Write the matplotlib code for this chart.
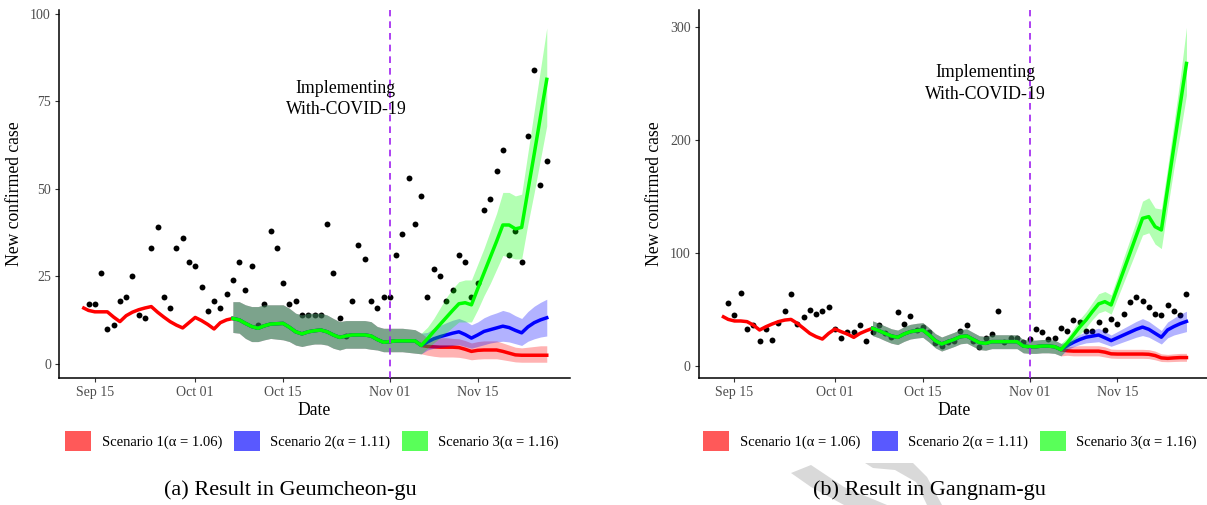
import pandas as pd
import matplotlib
matplotlib.use("Agg")
import matplotlib.pyplot as plt
import matplotlib.dates as mdates
from matplotlib.patches import Patch, Polygon

plt.rcParams['font.family'] = ['Liberation Serif', 'DejaVu Serif']

# observed daily new cases, Sep 14 - Nov 26 2021
obs_dates = pd.date_range('2021-09-14', '2021-11-26')
geum_obs = [17, 17, 26, 10, 11, 18, 19, 25, 14, 13, 33, 39, 19, 16, 33, 36, 29, 28,
            22, 15, 18, 16, 20, 24, 29, 21, 28, 11, 17, 38, 33, 23, 17, 18, 14, 14,
            14, 14, 40, 26, 13, 8, 18, 34, 30, 18, 16, 19, 19, 31, 37, 53, 40, 48,
            19, 27, 25, 18, 21, 31, 29, 19, 23, 44, 47, 55, 61, 31, 38, 29, 65, 84,
            51, 58]
gang_obs = [56, 45, 65, 33, 36, 22, 33, 23, 38, 49, 64, 37, 43, 50, 46, 49, 52, 33,
            25, 30, 30, 36, 22, 30, 36, 29, 26, 48, 37, 44, 32, 35, 30, 20, 18, 21,
            22, 31, 36, 22, 17, 25, 28, 49, 21, 25, 25, 21, 24, 33, 30, 24, 25, 34,
            31, 41, 39, 31, 31, 39, 32, 42, 37, 46, 57, 61, 58, 52, 46, 45, 54, 49,
            45, 64]

# scenario 1 fitted curve before the common fitting window, Sep 13 - Oct 07
pre_dates = pd.date_range('2021-09-13', '2021-10-07')
geum_pre = [16.2, 15.3, 14.9, 14.9, 14.9, 13.4, 12.1, 13.8, 14.8, 15.5, 16.0, 16.4, 14.8,
            13.4, 12.1, 11.1, 10.3, 11.8, 13.3, 12.4, 11.3, 10.0, 11.8, 12.6, 13.0]
gang_pre = [44.3, 41.3, 39.9, 39.9, 39.3, 36.3, 31.9, 34.8, 37.2, 39.3, 40.7, 41.3, 37.8,
            33.4, 28.9, 26.0, 23.9, 28.9, 32.8, 30.4, 28.3, 25.4, 28.9, 31.3, 33.4]

# common fit, Oct 07 - Nov 06 (the three scenarios coincide here)
fit_dates = pd.date_range('2021-10-07', '2021-11-06')
geum_fit = [13.0, 12.6, 11.6, 10.7, 10.2, 10.9, 11.4, 11.5, 11.6, 10.5, 9.2, 8.6, 9.2, 9.5,
            9.7, 9.2, 8.3, 7.6, 8.0, 8.3, 8.3, 8.3, 8.0, 7.0, 6.2, 6.4, 6.6, 6.6, 6.6, 6.6, 5.3]
geum_fit_lo = [9.0, 8.8, 7.3, 6.4, 6.4, 6.9, 7.3, 7.1, 6.9, 6.4, 5.4, 5.0, 5.4, 5.7, 5.7,
               5.4, 4.5, 4.0, 4.5, 4.5, 4.5, 4.5, 4.2, 4.0, 3.5, 3.5, 3.5, 3.5, 3.3, 3.1, 2.9]
geum_fit_hi = [17.8, 17.8, 16.9, 16.4, 16.4, 16.9, 16.9, 16.9, 16.9, 15.9, 14.5, 14.0, 14.5,
               14.5, 14.5, 14.0, 13.0, 12.1, 12.4, 12.4, 12.4, 12.4, 12.1, 10.7, 10.2, 10.2,
               10.2, 10.2, 10.0, 9.8, 8.8]
gang_fit = [33.4, 31.3, 28.9, 26.6, 25.4, 28.3, 30.4, 31.3, 31.9, 27.5, 22.4, 19.5, 21.6,
            23.6, 26.0, 26.6, 23.6, 20.7, 20.1, 21.6, 21.6, 21.6, 21.6, 21.6, 17.7, 17.1,
            17.1, 17.7, 17.7, 17.1, 14.5]
gang_fit_lo = [27.0, 25.0, 22.5, 20.2, 19.0, 21.8, 23.9, 24.8, 25.4, 21.1, 16.1, 13.3, 15.3,
               17.3, 19.7, 20.3, 17.4, 14.6, 14.0, 15.4, 15.4, 15.4, 15.4, 15.4, 11.7, 11.2,
               11.2, 11.7, 11.7, 11.2, 9.0]
gang_fit_hi = [40.0, 37.8, 35.4, 33.0, 31.8, 34.8, 36.9, 37.8, 38.4, 33.9, 28.7, 25.7, 27.8,
               29.9, 32.3, 32.9, 29.8, 26.8, 26.2, 27.7, 27.7, 27.7, 27.7, 27.6, 23.5, 22.9,
               22.9, 23.5, 23.5, 22.9, 20.0]

# projections, Nov 06 - Nov 26
proj_dates = pd.date_range('2021-11-06', '2021-11-26')
geum_s1 = [5.3, 5.0, 4.9, 4.8, 4.8, 4.8, 4.7, 4.2, 3.6, 3.9, 4.0, 4.0, 4.0, 3.6, 3.1, 2.6,
           2.5, 2.5, 2.5, 2.5, 2.5]
geum_s1_lo = [2.8, 2.5, 2.2, 2.0, 2.0, 2.0, 1.9, 1.6, 1.2, 1.4, 1.5, 1.5, 1.5, 1.2, 0.9, 0.6,
              0.5, 0.5, 0.5, 0.5, 0.5]
geum_s1_hi = [7.5, 7.5, 7.5, 7.5, 7.5, 7.3, 7.2, 6.7, 6.0, 6.4, 6.6, 6.6, 6.6, 6.0, 5.4, 4.8,
              4.6, 4.8, 5.0, 5.2, 5.2]
geum_s2 = [5.3, 6.3, 7.2, 7.8, 8.3, 8.8, 9.2, 8.4, 7.4, 8.3, 9.3, 9.8, 10.3, 10.8, 10.4, 9.6,
           8.9, 10.6, 11.8, 12.6, 13.2]
geum_s2_lo = [3.5, 4.0, 4.5, 4.8, 5.0, 5.3, 5.5, 5.0, 4.5, 5.0, 5.5, 6.0, 6.3, 6.5, 6.3, 5.8,
              5.3, 6.5, 7.2, 7.7, 8.0]
geum_s2_hi = [7.5, 9.0, 10.2, 11.0, 11.8, 12.5, 13.0, 12.3, 11.2, 12.0, 13.2, 14.0, 14.6, 15.3,
              14.8, 13.8, 13.0, 15.0, 16.5, 17.6, 18.5]
geum_s3 = [5.3, 7.2, 9.3, 11.3, 13.3, 15.3, 17.2, 17.5, 16.9, 21.5, 26.0, 30.5, 35.0, 39.7,
           39.7, 38.6, 39.0, 49.6, 60.0, 70.7, 81.3]
geum_s3_lo = [3.0, 4.5, 6.0, 7.5, 9.0, 10.5, 12.0, 12.0, 12.0, 15.5, 19.5, 23.0, 27.0, 31.0,
              30.5, 30.0, 30.0, 40.0, 49.0, 58.5, 68.0]
geum_s3_hi = [8.5, 10.5, 13.0, 16.0, 19.0, 21.5, 23.5, 24.0, 24.0, 28.5, 33.0, 38.0, 43.0,
              49.0, 49.0, 48.0, 48.5, 60.4, 72.3, 84.2, 96.0]

gang_s1 = [14.5, 13.5, 13.2, 13.2, 13.2, 13.2, 13.2, 12.3, 10.8, 10.6, 10.6, 10.6, 10.6, 10.6,
           10.4, 9.3, 7.2, 6.8, 7.2, 7.5, 7.5]
gang_s1_lo = [11.0, 9.5, 9.0, 9.0, 9.0, 9.0, 9.0, 8.0, 7.0, 6.8, 6.8, 6.8, 6.8, 6.8, 6.6, 5.5,
              4.0, 3.8, 4.0, 4.2, 4.2]
gang_s1_hi = [17.0, 17.0, 17.5, 18.0, 18.0, 18.0, 18.0, 17.0, 15.0, 14.8, 14.8, 14.8, 14.8,
              14.8, 14.5, 13.2, 10.8, 10.3, 10.8, 11.2, 11.2]
gang_s2 = [14.5, 18.0, 21.0, 23.5, 25.5, 26.5, 27.5, 25.0, 22.5, 25.0, 27.5, 30.0, 32.5, 34.5,
           32.5, 29.0, 25.5, 32.0, 35.0, 37.5, 39.5]
gang_s2_lo = [12.0, 14.5, 17.0, 19.0, 20.5, 21.0, 21.5, 19.5, 17.5, 19.5, 21.5, 23.5, 25.5,
              27.0, 25.5, 22.5, 19.5, 25.0, 27.5, 29.0, 30.5]
gang_s2_hi = [17.0, 21.5, 25.0, 28.0, 30.5, 32.0, 33.5, 30.5, 27.5, 30.5, 33.5, 36.5, 39.5,
              42.0, 39.5, 35.5, 31.5, 39.0, 42.5, 46.0, 48.5]
gang_s3 = [14.5, 20.4, 27.5, 34.6, 40.8, 48.2, 55.0, 57.0, 54.1, 69.4, 84.7, 100.0, 115.4,
           130.8, 132.3, 123.4, 120.5, 157.5, 194.5, 231.5, 268.0]
gang_s3_lo = [12.0, 16.0, 22.0, 28.0, 34.0, 41.0, 47.0, 49.0, 46.0, 60.0, 74.0, 88.0, 102.0,
              116.0, 118.0, 108.0, 104.0, 140.0, 175.0, 206.0, 240.0]
gang_s3_hi = [17.0, 25.0, 33.0, 41.5, 48.0, 56.0, 64.0, 66.0, 63.0, 79.0, 96.0, 112.0, 128.0,
              146.0, 149.0, 140.0, 139.0, 176.0, 215.0, 255.0, 300.0]

scenario_labels = ['Scenario 1(α = 1.06)', 'Scenario 2(α = 1.11)', 'Scenario 3(α = 1.16)']
scenario_colors = ['#FF0000', '#0000FF', '#00FF00']
tick_dates = pd.to_datetime(['2021-09-15', '2021-10-01', '2021-10-15', '2021-11-01', '2021-11-15'])
tick_labels = ['Sep 15', 'Oct 01', 'Oct 15', 'Nov 01', 'Nov 15']
policy_date = pd.Timestamp('2021-11-01')
note_date = pd.Timestamp('2021-10-25')

W, H = 1207, 505
fig = plt.figure(figsize=(W / 100, H / 100), dpi=100)


def draw_panel(rect, obs, pre, fit, fit_lo, fit_hi, projs, yticks, ylim, note_y):
    ax = fig.add_axes(rect)
    ax.scatter(obs_dates, obs, s=18, color='black', zorder=2, linewidths=0)
    band_dates = fit_dates.append(proj_dates[1:])
    for i, (line, lo, hi) in enumerate(projs):
        c = scenario_colors[i]
        ax.fill_between(band_dates, fit_lo + lo[1:], fit_hi + hi[1:], color=c,
                        alpha=0.3, linewidth=0, zorder=3 + 2 * i)
        if i == 0:
            ax.plot(pre_dates, pre, color=c, lw=2.5, zorder=4, solid_capstyle='butt')
        ax.plot(band_dates, fit + line[1:], color=c, lw=2.5, zorder=4 + 2 * i)
    ax.axvline(policy_date, color='#A020F0', lw=1.2, dashes=(4, 3), zorder=10)
    ax.text(note_date, note_y, 'Implementing\nWith-COVID-19', ha='center', va='center',
            fontsize=12.8, linespacing=1.35, zorder=11)

    base = mdates.date2num(pd.Timestamp('2021-09-15'))
    ax.set_xlim(base - 5.7, base + 75.7)
    ax.set_ylim(*ylim)
    ax.set_xticks(tick_dates)
    ax.set_xticklabels(tick_labels)
    ax.set_yticks(yticks)
    for s in ['top', 'right']:
        ax.spines[s].set_visible(False)
    for s in ['left', 'bottom']:
        ax.spines[s].set_linewidth(1.1)
    ax.tick_params(length=2.8, width=0.8, color='#333333', labelcolor='#4D4D4D',
                   labelsize=10, pad=3)
    ax.set_xlabel('Date', fontsize=12.7, va='center')
    ax.set_ylabel('New confirmed case', fontsize=12.7, va='center')
    ax.xaxis.set_label_coords(0.5, -0.087)
    ax.yaxis.set_label_coords(-0.087, 0.5)
    return ax


draw_panel([59 / W, 127 / H, 511 / W, 368 / H], geum_obs, geum_pre,
           geum_fit, geum_fit_lo, geum_fit_hi,
           [(geum_s1, geum_s1_lo, geum_s1_hi), (geum_s2, geum_s2_lo, geum_s2_hi),
            (geum_s3, geum_s3_lo, geum_s3_hi)],
           [0, 25, 50, 75, 100], (-4, 101.1), 75.7)
draw_panel([698.7 / W, 127 / H, 511 / W, 368 / H], gang_obs, gang_pre,
           gang_fit, gang_fit_lo, gang_fit_hi,
           [(gang_s1, gang_s1_lo, gang_s1_hi), (gang_s2, gang_s2_lo, gang_s2_hi),
            (gang_s3, gang_s3_lo, gang_s3_hi)],
           [0, 100, 200, 300], (-10.6, 315.3), 250)

# faint grey watermark fragment under the right caption
for pts in [[(791, 473), (811, 465), (844, 487), (887, 505), (844, 505), (811, 487)],
            [(865, 463), (913, 463), (927, 477), (942, 505), (927, 505), (916, 482),
             (895, 470), (873, 468)]]:
    fig.patches.append(Polygon([(x / W, 1 - y / H) for x, y in pts], closed=True,
                               transform=fig.transFigure, facecolor='#D9D9D9',
                               edgecolor='none', zorder=0))

handles = [Patch(facecolor=c, alpha=0.65, edgecolor='none') for c in scenario_colors]
for xc in [312 / W, 950 / W]:
    fig.legend(handles, scenario_labels, loc='center', bbox_to_anchor=(xc, 1 - 441 / H),
               ncol=3, frameon=False, fontsize=10.5, handlelength=1.8, handleheight=1.7,
               handletextpad=0.7, columnspacing=0.8)

fig.text(290.5 / W, 1 - 490 / H, '(a) Result in Geumcheon-gu', ha='center', va='center',
         fontsize=16, zorder=5)
fig.text(929.5 / W, 1 - 490 / H, '(b) Result in Gangnam-gu', ha='center', va='center',
         fontsize=16, zorder=5)

fig.savefig('out.png', dpi=100)
